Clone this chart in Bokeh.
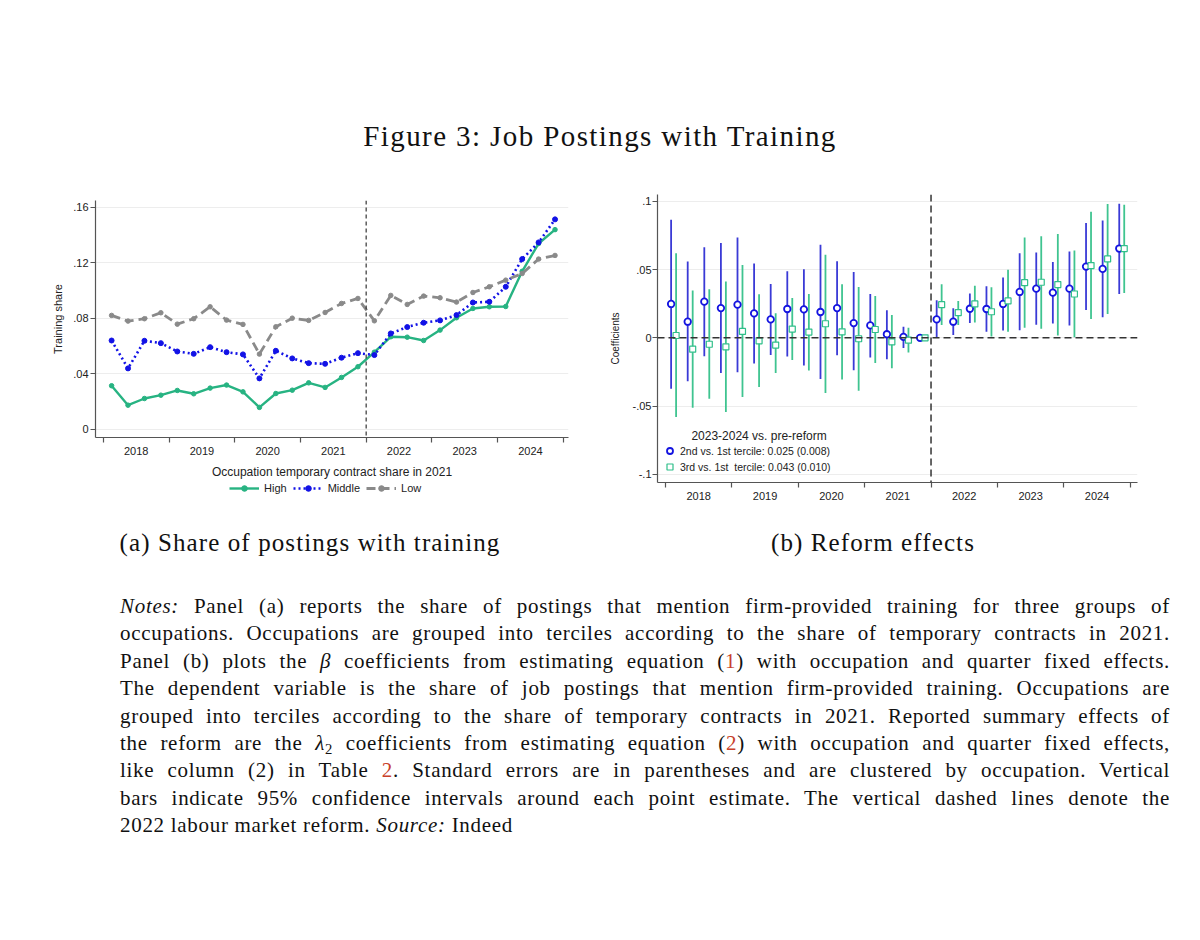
from bokeh.plotting import figure
from bokeh.models import (Range1d, FixedTicker, Span, Legend, LegendItem,
                          ColumnDataSource, Label, Div, CustomJSTickFormatter)
from bokeh.layouts import column, row
from bokeh.embed import file_html
from bokeh.resources import INLINE

# ---------------- data ----------------
years = [2018, 2019, 2020, 2021, 2022, 2023, 2024]
quarters = [1, 2, 3, 4]
reform_year = 2022

# Panel (a): share of postings with training, by tercile of 2021 temp-contract share
share_high = [0.0315, 0.0175, 0.0223, 0.0247,
              0.0281, 0.0257, 0.0298, 0.0320,
              0.0271, 0.0159, 0.0259, 0.0283,
              0.0336, 0.0303, 0.0375, 0.0452,
              0.0557, 0.0668, 0.0665, 0.0641,
              0.0716, 0.0805, 0.0872, 0.0884,
              0.0886, 0.1140, 0.1340, 0.1440]
share_middle = [0.0641, 0.0440, 0.0639, 0.0622,
                0.0562, 0.0545, 0.0593, 0.0557,
                0.0541, 0.0368, 0.0567, 0.0512,
                0.0478, 0.0473, 0.0517, 0.0550,
                0.0536, 0.0692, 0.0738, 0.0769,
                0.0786, 0.0824, 0.0915, 0.0920,
                0.1028, 0.1228, 0.1348, 0.1514]
share_low = [0.0822, 0.0781, 0.0798, 0.0841,
             0.0759, 0.0798, 0.0884, 0.0788,
             0.0757, 0.0543, 0.0740, 0.0802,
             0.0786, 0.0843, 0.0908, 0.0944,
             0.0783, 0.0966, 0.0901, 0.0961,
             0.0949, 0.0918, 0.0987, 0.1028,
             0.1076, 0.1124, 0.1228, 0.1254]

# Panel (b): coefficients and 95% CIs
coef_2nd = [0.0248, 0.0118, 0.0265, 0.0218,
            0.0243, 0.0179, 0.0135, 0.0211,
            0.0208, 0.0189, 0.0218, 0.0108,
            0.0091, 0.0026, 0.0007, 0.0,
            0.0135, 0.0118, 0.0213, 0.0211,
            0.0248, 0.0336, 0.0360, 0.0331,
            0.0360, 0.0522, 0.0505, 0.0654]
lo_2nd = [-0.0373, -0.0319, -0.0135, -0.0257,
          -0.0252, -0.0189, -0.0125, -0.0137,
          -0.0203, -0.0301, -0.0127, -0.0238,
          -0.0145, -0.0157, -0.0074, 0.0,
          0.0000, 0.0020, 0.0108, 0.0044,
          0.0054, 0.0056, 0.0096, 0.0105,
          0.0091, 0.0203, 0.0150, 0.0321]
hi_2nd = [0.0865, 0.0559, 0.0664, 0.0694,
          0.0735, 0.0544, 0.0395, 0.0488,
          0.0502, 0.0681, 0.0561, 0.0483,
          0.0321, 0.0202, 0.0081, 0.0,
          0.0275, 0.0216, 0.0324, 0.0377,
          0.0441, 0.0620, 0.0625, 0.0556,
          0.0632, 0.0841, 0.0860, 0.0983]
coef_3rd = [0.0017, -0.0083, -0.0047, -0.0066,
            0.0047, -0.0022, -0.0053, 0.0064,
            0.0042, 0.0103, 0.0044, -0.0007,
            0.0061, -0.0029, -0.0017, 0.0,
            0.0243, 0.0184, 0.0248, 0.0191,
            0.0270, 0.0404, 0.0407, 0.0390,
            0.0321, 0.0529, 0.0578, 0.0654]
lo_3rd = [-0.0580, -0.0512, -0.0446, -0.0544,
          -0.0434, -0.0360, -0.0258, -0.0162,
          -0.0240, -0.0404, -0.0306, -0.0387,
          -0.0184, -0.0223, -0.0108, 0.0,
          0.0093, 0.0093, 0.0113, 0.0010,
          0.0044, 0.0074, 0.0066, 0.0017,
          0.0005, 0.0137, 0.0174, 0.0328]
hi_3rd = [0.0620, 0.0346, 0.0355, 0.0412,
          0.0534, 0.0320, 0.0180, 0.0292,
          0.0321, 0.0608, 0.0392, 0.0373,
          0.0306, 0.0167, 0.0074, 0.0,
          0.0392, 0.0270, 0.0382, 0.0370,
          0.0498, 0.0735, 0.0745, 0.0760,
          0.0640, 0.0924, 0.0980, 0.0975]

series_labels = ["High", "Middle", "Low"]
legend_title_a = "Occupation temporary contract share in 2021"
legend_title_b = "2023-2024 vs. pre-reform"
legend_labels_b = ["2nd vs. 1st tercile: 0.025 (0.008)",
                   "3rd vs. 1st  tercile: 0.043 (0.010)"]
ticks_a = [0, 0.04, 0.08, 0.12, 0.16]
ticks_b = [-0.1, -0.05, 0, 0.05, 0.1]

title_text = "Figure 3: Job Postings with Training"
caption_a = "(a) Share of postings with training"
caption_b = "(b) Reform effects"
RED = "#c8402a"
note_lines = [
    "<i>Notes:</i> Panel (a) reports the share of postings that mention firm-provided training for three groups of",
    "occupations. Occupations are grouped into terciles according to the share of temporary contracts in 2021.",
    "Panel (b) plots the <i>&beta;</i> coefficients from estimating equation (<span style='color:%s'>1</span>) with occupation and quarter fixed effects." % RED,
    "The dependent variable is the share of job postings that mention firm-provided training. Occupations are",
    "grouped into terciles according to the share of temporary contracts in 2021. Reported summary effects of",
    "the reform are the <i>&lambda;</i><sub style='font-size:0.7em;line-height:0;vertical-align:-0.25em'>2</sub> coefficients from estimating equation (<span style='color:%s'>2</span>) with occupation and quarter fixed effects," % RED,
    "like column (2) in Table <span style='color:%s'>2</span>. Standard errors are in parentheses and are clustered by occupation. Vertical" % RED,
    "bars indicate 95% confidence intervals around each point estimate. The vertical dashed lines denote the",
    "2022 labour market reform. <i>Source:</i> Indeed",
]

# ---------------- derived positions ----------------
t = [y + (q - 0.5) / 4 for y in years for q in quarters]
year_mid = [y + 0.5 for y in years]
year_bounds = years + [years[-1] + 1]

SANS = "Liberation Sans"
SERIF = "Liberation Serif"
GREEN = "#27b382"
BLUE = "#1212e6"
GRAY = "#8a8a8a"
AXIS = "#555555"
GRID = "#ededed"

fmt_y = CustomJSTickFormatter(code="return String(+tick.toFixed(3)).replace('0.', '.');")
fmt_x = CustomJSTickFormatter(code="return String(Math.floor(tick));")


def style_axes(p, ylabel, ylabel_size, ylabel_standoff, yticks):
    p.outline_line_color = None
    p.background_fill_color = "white"
    p.border_fill_color = "white"
    p.xgrid.grid_line_color = None
    p.ygrid.grid_line_color = GRID
    p.ygrid.grid_line_width = 1
    p.ygrid.ticker = FixedTicker(ticks=yticks)
    for ax in (p.xaxis[0], p.yaxis[0]):
        ax.axis_line_color = AXIS
        ax.axis_line_width = 1.2
        ax.major_tick_line_color = AXIS
        ax.minor_tick_line_color = AXIS
        ax.major_tick_line_width = 1.2
        ax.minor_tick_line_width = 1.2
        ax.major_label_text_font = SANS
        ax.major_label_text_font_size = "11px"
        ax.major_label_text_color = "#222222"
        ax.axis_label_text_font = SANS
        ax.axis_label_text_font_style = "normal"
        ax.axis_label_text_color = "#222222"
    xa = p.xaxis[0]
    xa.ticker = FixedTicker(ticks=year_mid, minor_ticks=year_bounds)
    xa.formatter = fmt_x
    xa.major_tick_out = 0
    xa.major_tick_in = 0
    xa.minor_tick_out = 5
    xa.minor_tick_in = 0
    xa.major_label_standoff = 4
    ya = p.yaxis[0]
    ya.ticker = FixedTicker(ticks=yticks)
    ya.formatter = fmt_y
    ya.major_tick_out = 5
    ya.major_tick_in = 0
    ya.minor_tick_out = 0
    ya.minor_tick_in = 0
    ya.major_label_standoff = 2
    ya.axis_label = ylabel
    ya.axis_label_text_font_size = ylabel_size
    ya.axis_label_standoff = ylabel_standoff


# ---------------- panel (a) ----------------
src_a = ColumnDataSource(dict(t=t, high=share_high, middle=share_middle, low=share_low))
pa = figure(frame_width=473, frame_height=237, output_backend="svg", toolbar_location=None,
            x_range=Range1d(2017.88, 2025.08), y_range=Range1d(-0.0058, 0.165),
            min_border_left=95, min_border_right=32, min_border_top=15, min_border_bottom=44)
style_axes(pa, "Training share", "11px", 6, ticks_a)
pa.xaxis[0].axis_label = legend_title_a
pa.xaxis[0].axis_label_text_font_size = "12px"
pa.xaxis[0].axis_label_standoff = 7

pa.add_layout(Span(location=reform_year, dimension="height", line_color="#333333",
                   line_dash="4 3", line_width=1.2))

cols_a = ["high", "middle", "low"]
line_styles = [dict(line_color=GREEN, line_width=2.4),
               dict(line_color=BLUE, line_width=2.6, line_dash="2 3"),
               dict(line_color=GRAY, line_width=2.8, line_dash="9 5")]
marker_styles = [dict(size=4.5, color=GREEN), dict(size=5, color=BLUE), dict(size=4.5, color=GRAY)]
for col, ls, ms in zip(cols_a, line_styles, marker_styles):
    pa.line("t", col, source=src_a, **ls)
    pa.scatter("t", col, source=src_a, marker="circle", **ms)

# legend strip for panel (a), sitting under the axis title (its own series lie
# outside its view, so only the legend swatches show)
lg = figure(width=600, height=24, output_backend="svg", toolbar_location=None,
            x_range=Range1d(0, 1), y_range=Range1d(0, 1),
            x_axis_location=None, y_axis_location=None, min_border=0)
lg.outline_line_color = None
lg.background_fill_color = "white"
lg.border_fill_color = "white"
lg.xgrid.visible = False
lg.ygrid.visible = False
items = []
for lab, col, ls, ms in zip(series_labels, cols_a, line_styles, marker_styles):
    rl = lg.line("t", col, source=src_a, **ls)
    rm = lg.scatter("t", col, source=src_a, marker="circle", **ms)
    items.append(LegendItem(label=lab, renderers=[rl, rm]))
leg_a = Legend(items=items, orientation="horizontal", location=(134, 10),
               label_text_font=SANS, label_text_font_size="11px", label_text_color="#222222",
               glyph_width=30, glyph_height=14, label_height=14, label_standoff=5,
               spacing=6, padding=0, margin=0,
               border_line_color=None, background_fill_alpha=0)
lg.add_layout(leg_a)

# ---------------- panel (b) ----------------
CI_BLUE = "#3a3ad6"
CI_GREEN = "#3fc490"
MK_BLUE = "#1414e0"
MK_GREEN = "#2fbf8a"
src_b = ColumnDataSource(dict(
    t2=[v - 0.04 for v in t], t3=[v + 0.035 for v in t],
    c2=coef_2nd, l2=lo_2nd, h2=hi_2nd,
    c3=coef_3rd, l3=lo_3rd, h3=hi_3rd))
pb = figure(frame_width=480, frame_height=288, output_backend="svg", toolbar_location=None,
            x_range=Range1d(2017.88, 2025.11), y_range=Range1d(-0.106, 0.105),
            min_border_left=57, min_border_right=23, min_border_top=9, min_border_bottom=23)
style_axes(pb, "Coefficients", "10px", 9, ticks_b)
pb.yaxis[0].major_label_standoff = 1

pb.add_layout(Span(location=0, dimension="width", line_color="#333333",
                   line_dash="7 4", line_width=1.5))
pb.add_layout(Span(location=reform_year, dimension="height", line_color="#333333",
                   line_dash="7 4", line_width=1.5))

pb.segment("t2", "l2", "t2", "h2", source=src_b, line_color=CI_BLUE, line_width=1.8)
pb.segment("t3", "l3", "t3", "h3", source=src_b, line_color=CI_GREEN, line_width=1.8)
r_c = pb.scatter("t2", "c2", source=src_b, marker="circle", size=6.5, fill_color="white",
                 line_color=MK_BLUE, line_width=1.8)
r_s = pb.scatter("t3", "c3", source=src_b, marker="square", size=6, fill_color="white",
                 line_color=MK_GREEN, line_width=1.2)

leg_b = Legend(items=[LegendItem(label=legend_labels_b[0], renderers=[r_c]),
                      LegendItem(label=legend_labels_b[1], renderers=[r_s])],
               location=(5, 8), orientation="vertical",
               label_text_font=SANS, label_text_font_size="10.5px", label_text_color="#222222",
               glyph_width=15, glyph_height=15, label_height=15, label_standoff=3,
               spacing=1, padding=4, margin=0,
               border_line_color=None, background_fill_color="white", background_fill_alpha=1)
pb.add_layout(leg_b)
pb.add_layout(Label(x=2019.41, y=-0.072, text=legend_title_b, text_font=SANS,
                    text_font_size="12px", text_color="#222222",
                    text_align="center", text_baseline="middle"))

# ---------------- text blocks ----------------
title_div = Div(width=1200, height=185, margin=(0, 0, 0, 0), text=(
    "<div style='width:1200px;padding-top:118px;text-align:center;font-family:\"%s\";"
    "font-size:29px;line-height:36px;letter-spacing:1.4px;color:#111'>%s</div>" % (SERIF, title_text)))

cap_a_div = Div(width=600, height=75, margin=(0, 0, 0, 0), text=(
    "<div style='width:600px;padding-left:20px;padding-top:24px;text-align:center;font-family:\"%s\";"
    "font-size:25px;line-height:28px;letter-spacing:1.1px;color:#111'>%s</div>" % (SERIF, caption_a)))
cap_b_div = Div(width=560, height=75, margin=(0, 0, 0, 0), text=(
    "<div style='width:546px;padding-top:24px;text-align:center;font-family:\"%s\";"
    "font-size:25px;line-height:28px;letter-spacing:1.1px;color:#111'>%s</div>" % (SERIF, caption_b)))

line_html = []
for i, ln in enumerate(note_lines):
    last = i == len(note_lines) - 1
    align = "text-align:left;" if last else "text-align:justify;text-align-last:justify;"
    line_html.append("<div style='%sheight:27.4px;line-height:27.4px'>%s</div>" % (align, ln))
notes_div = Div(width=1200, height=320, margin=(0, 0, 0, 0), text=(
    "<div style='width:1170px;padding-left:120px;padding-top:13px;font-family:\"%s\";"
    "font-size:21px;letter-spacing:0.7px;color:#111'>%s</div>" % (SERIF, "".join(line_html))))

layout = column(title_div, row(column(pa, lg), pb), row(cap_a_div, cap_b_div), notes_div)

with open("out.html", "w") as f:
    f.write(file_html(layout, INLINE))
